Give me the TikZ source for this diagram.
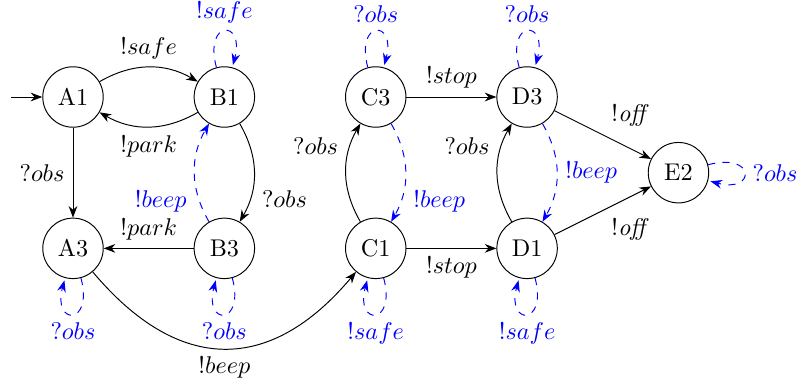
\documentclass[tikz,border=0pt]{standalone}
\usetikzlibrary{automata,positioning,arrows.meta}
\begin{document}
\begin{tikzpicture}[>=Stealth, auto, every state/.style={minimum size=2.5em}, env/.style={blue,dashed}]
		\useasboundingbox (-1.061,-4.157) rectangle (10.552,1.410);
		%states
			\node[state] (A1) at (0,0) {A1};
			\node[state] (B1) at (2.2,0) {B1};
			\node[state] (C3) at (4.4,0) {C3};
			\node[state] (D3) at (6.6,0) {D3};
			\node[state] (A3) at (0,-2.2) {A3};
			\node[state] (B3) at (2.2,-2.2) {B3};
			\node[state] (C1) at (4.4,-2.2) {C1};
			\node[state] (D1) at (6.6,-2.2) {D1};
			\node[state] (E2) at (8.8,-1.1) {E2};
		%initial arrow
			\coordinate[left=3ex of A1] (init);
			\draw[->] (init) -- (A1);
		%transitions
			\path[->]
				(A1) edge[bend left] node {$!safe$} (B1)
				(B1) edge[bend left] node {$!park$} (A1)
				(A1) edge node[swap] {$?obs$} (A3)
				(B1) edge[bend left] node[pos=0.6] {$?obs$} (B3)
				(B3) edge node[swap] {$!park$} (A3)
				(A3) edge[bend right=50, looseness=1.3] node[swap] {$!beep$} (C1)
				(C1) edge[bend left] node[pos=0.6] {$?obs$} (C3)
				(C3) edge node {$!stop$} (D3)
				(C1) edge node[swap] {$!stop$} (D1)
				(D1) edge[bend left] node[pos=0.6] {$?obs$} (D3)
				(D3) edge node {$!\mathit{off}$} (E2)
				(D1) edge node[swap] {$!\mathit{off}$} (E2);
		%dashed transitions + loops
			\path[->,env]
				(B3) edge[bend left] node[pos=0.4] {$!beep$} (B1)
				(C3) edge[bend left] node[pos=0.6] {$!beep$} (C1)
				(D3) edge[bend left] node {$!beep$} (D1)
				(B1) edge[loop above] node {$!safe$} ()
				(C3) edge[loop above] node {$?obs$} ()
				(D3) edge[loop above] node {$?obs$} ()
				(A3) edge[loop below] node {$?obs$} ()
				(B3) edge[loop below] node {$?obs$} ()
				(C1) edge[loop below] node {$!safe$} ()
				(D1) edge[loop below] node {$!safe$} ()
				(E2) edge[loop right] node {$?obs$} ();
	\end{tikzpicture}
\end{document}
